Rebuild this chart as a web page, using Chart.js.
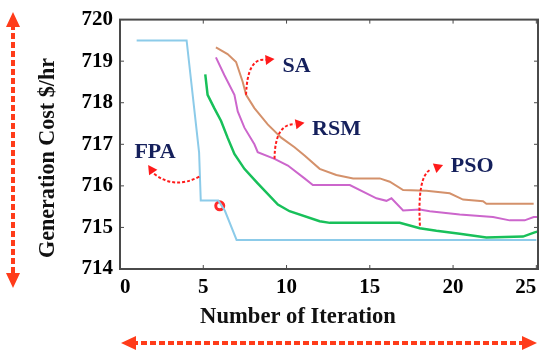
<!DOCTYPE html>
<html>
<head>
<meta charset="utf-8">
<script src="https://cdn.jsdelivr.net/npm/chart.js@4/dist/chart.umd.min.js"></script>
<style>
  html,body{margin:0;padding:0;background:#fff;}
  #wrap{width:550px;height:354px;position:relative;}
</style>
</head>
<body>
<div id="wrap"><canvas id="cost" width="550" height="354"></canvas></div>
<script>
// ---------------- DATA ----------------
const xTicks=[0,5,10,15,20,25];
const yTicks=[714,715,716,717,718,719,720];

const fpaIter=[1,4,4.75,4.85,5.9,6.3,7.0,25];
const fpaCost=[719.5,719.5,716.8,715.65,715.65,715.4,714.7,714.7];

const psoIter=[5.12,5.26,5.66,6.07,6.46,6.87,7.47,8.27,9.48,10.18,11.99,12.6,16.8,18.0,19.0,20.4,22.0,24.2,24.9,25.06];
const psoCost=[718.68,718.19,717.87,717.56,717.16,716.77,716.41,716.06,715.55,715.39,715.15,715.11,715.11,714.98,714.92,714.85,714.76,714.78,714.88,714.9];

const saIter=[5.76,6.46,6.97,7.17,7.37,7.57,8.07,8.87,9.68,10.48,11.08,11.99,12.99,14.0,15.6,16.2,17.0,18.4,19.8,20.6,21.8,22.0,24.84];
const saCost=[719.33,719.17,718.98,718.74,718.5,718.19,717.87,717.48,717.16,716.93,716.73,716.41,716.26,716.18,716.18,716.1,715.9,715.88,715.82,715.67,715.63,715.57,715.57];

const rsmIter=[5.76,6.27,6.87,7.07,7.47,8.07,8.27,9.28,10.08,11.08,11.58,13.8,15.4,16.0,16.3,17.0,18.0,18.6,20.4,22.4,23.4,24.3,24.84,25.06];
const rsmCost=[719.09,718.66,718.19,717.79,717.4,717.0,716.81,716.65,716.49,716.18,716.02,716.02,715.7,715.64,715.7,715.41,715.43,715.39,715.31,715.25,715.17,715.17,715.25,715.25];

const markIter=[5.99];
const markCost=[715.52];

const pts=(xs,ys)=>xs.map((x,i)=>({x:x,y:ys[i]}));

// ---------------- ANNOTATIONS ----------------
const NAVY="#15205c", RED="#ff1a1a", ORANGE="#ff3c1a";
const serif="'Liberation Serif','Times New Roman',serif";

// labels: text, iteration, cost (centre)
const labels=[["SA",10.6,718.87],["RSM",13.0,717.35],["FPA",2.1,716.8],["PSO",21.15,716.48]];
// curved arrows: start, control, end, tip (iteration, cost)
const arrows=[
  [[7.57,718.19],[7.65,719.1],[8.75,719.03],[9.28,719.05]],
  [[9.28,716.65],[9.3,717.5],[10.5,717.48],[11.08,717.52]],
  [[4.76,716.22],[3.25,715.91],[2.05,716.29],[1.69,716.5]],
  [[18.01,715.04],[17.85,716.2],[18.6,716.38],[19.4,716.5]]
];

function head(ctx,fx,fy,tx,ty,len,w,col){
  const a=Math.atan2(ty-fy,tx-fx);
  ctx.save();
  ctx.fillStyle=col;
  ctx.beginPath();
  ctx.moveTo(tx,ty);
  ctx.lineTo(tx-len*Math.cos(a)+w*Math.sin(a),ty-len*Math.sin(a)-w*Math.cos(a));
  ctx.lineTo(tx-len*Math.cos(a)-w*Math.sin(a),ty-len*Math.sin(a)+w*Math.cos(a));
  ctx.closePath();
  ctx.fill();
  ctx.restore();
}

// set a bold serif font so that text spans the given width
function fitFont(ctx,text,width){
  ctx.font="bold 20px "+serif;
  const s=20*width/ctx.measureText(text).width;
  ctx.font="bold "+s.toFixed(1)+"px "+serif;
}

const decor={
  id:"decor",
  afterDraw(chart){
    const ctx=chart.ctx, a=chart.chartArea;
    const xs=chart.scales.x, ys=chart.scales.y;
    const X=v=>xs.getPixelForValue(v), Y=v=>ys.getPixelForValue(v);
    ctx.save();
    // box + inward ticks
    ctx.strokeStyle="#4a4a4a";
    ctx.lineWidth=2;
    ctx.strokeRect(a.left,a.top,a.right-a.left,a.bottom-a.top);
    ctx.lineWidth=1;
    ctx.beginPath();
    xTicks.forEach(v=>{
      const p=X(v);
      ctx.moveTo(p,a.bottom);ctx.lineTo(p,a.bottom-4);
      ctx.moveTo(p,a.top);ctx.lineTo(p,a.top+4);
    });
    yTicks.forEach(v=>{
      const p=Y(v);
      ctx.moveTo(a.left,p);ctx.lineTo(a.left+4,p);
      ctx.moveTo(a.right,p);ctx.lineTo(a.right-4,p);
    });
    ctx.stroke();

    // curved red arrows
    ctx.strokeStyle=RED;
    ctx.lineWidth=2;
    ctx.setLineDash([3,2]);
    arrows.forEach(ar=>{
      const [s,c,e,t]=ar;
      ctx.beginPath();
      ctx.moveTo(X(s[0]),Y(s[1]));
      ctx.quadraticCurveTo(X(c[0]),Y(c[1]),X(e[0]),Y(e[1]));
      ctx.stroke();
      head(ctx,X(e[0]),Y(e[1]),X(t[0]),Y(t[1]),9,5,RED);
    });
    ctx.setLineDash([]);

    // method labels
    ctx.fillStyle=NAVY;
    ctx.font="bold 22px "+serif;
    ctx.textAlign="center";
    ctx.textBaseline="middle";
    labels.forEach(l=>ctx.fillText(l[0],X(l[1]),Y(l[2])));

    // axis titles
    ctx.fillStyle="#111";
    ctx.textBaseline="alphabetic";
    const yt="Generation Cost $/hr";
    fitFont(ctx,yt,200);
    ctx.save();
    ctx.translate(54,158);
    ctx.rotate(-Math.PI/2);
    ctx.fillText(yt,0,0);
    ctx.restore();
    const xt="Number of Iteration";
    fitFont(ctx,xt,196);
    ctx.fillText(xt,298,323);

    // big dashed double arrows
    ctx.strokeStyle=ORANGE;
    ctx.lineWidth=4;
    ctx.setLineDash([6,3]);
    ctx.beginPath();
    ctx.moveTo(13,24);ctx.lineTo(13,276);
    ctx.moveTo(132,343);ctx.lineTo(526,343);
    ctx.stroke();
    ctx.setLineDash([]);
    head(ctx,13,30,13,12,15,7,ORANGE);
    head(ctx,13,270,13,288,15,7,ORANGE);
    head(ctx,138,343,121,343,15,7,ORANGE);
    head(ctx,520,343,537,343,15,7,ORANGE);
    ctx.restore();
  }
};

// ---------------- CHART ----------------
new Chart(document.getElementById("cost"),{
  type:"line",
  data:{
    datasets:[
      {label:"FPA",data:pts(fpaIter,fpaCost),borderColor:"#8ccbe9",borderWidth:2},
      {label:"PSO",data:pts(psoIter,psoCost),borderColor:"#18c05a",borderWidth:2.5},
      {label:"SA",data:pts(saIter,saCost),borderColor:"#d4916b",borderWidth:2},
      {label:"RSM",data:pts(rsmIter,rsmCost),borderColor:"#cc66cc",borderWidth:2},
      {label:"mark",data:pts(markIter,markCost),showLine:false,pointRadius:4,pointBorderWidth:3,
       pointBorderColor:"#ff2a2a",pointBackgroundColor:"rgba(0,0,0,0)"}
    ]
  },
  options:{
    responsive:false,
    animation:false,
    devicePixelRatio:1,
    layout:{padding:{left:0,right:12,top:15,bottom:0}},
    elements:{line:{tension:0,fill:false},point:{radius:0}},
    plugins:{legend:{display:false},tooltip:{enabled:false}},
    scales:{
      x:{
        type:"linear",min:0,max:25.1,
        grid:{display:false,drawTicks:false},border:{display:false},
        afterBuildTicks:s=>{s.ticks=xTicks.map(v=>({value:v}));},
        afterFit:s=>{s.height=85;},
        ticks:{color:"#000",padding:6,align:"inner",font:{family:serif,size:21,weight:"bold"}}
      },
      y:{
        type:"linear",min:714,max:720,
        grid:{display:false,drawTicks:false},border:{display:false},
        afterBuildTicks:s=>{s.ticks=yTicks.map(v=>({value:v}));},
        afterFit:s=>{s.width=120;},
        ticks:{color:"#000",padding:7,font:{family:serif,size:21,weight:"bold"}}
      }
    }
  },
  plugins:[decor]
});
</script>
</body>
</html>
